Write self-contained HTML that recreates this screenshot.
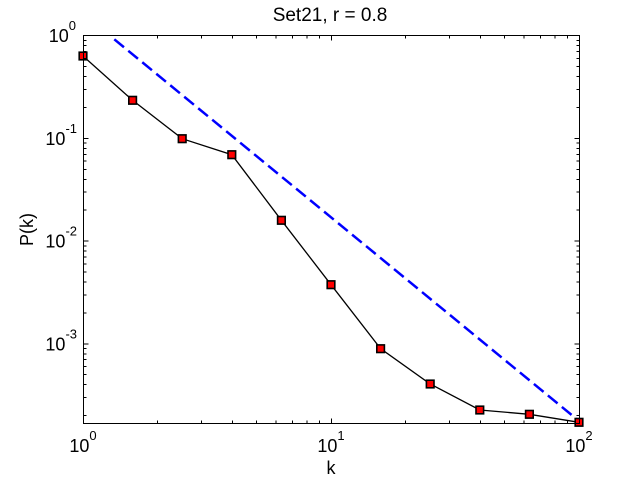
<!DOCTYPE html>
<html>
<head>
<meta charset="utf-8">
<style>
html,body{margin:0;padding:0;background:#fff;}
svg{display:block;}
text{font-family:"Liberation Sans",Arial,sans-serif;fill:#000;}
</style>
</head>
<body>
<svg width="640" height="480" viewBox="0 0 640 480" xmlns="http://www.w3.org/2000/svg">
<rect x="0" y="0" width="640" height="480" fill="#fff"/>

<!-- blue dashed reference line -->
<line x1="114.3" y1="39.3" x2="579" y2="421" stroke="#0000ff" stroke-width="2.5" stroke-dasharray="12.5 5.6"/>

<!-- black data line -->
<polyline fill="none" stroke="#000" stroke-width="1.3" points="83,56 132.6,100.3 182.2,138.7 231.8,154.7 281.4,220.3 331,284.7 380.6,348.7 430.2,384 479.8,410 529.4,414.3 579,422.3"/>

<!-- markers -->
<g fill="#ff0000" stroke="#000" stroke-width="1.6">
<rect x="79.2" y="52.2" width="7.6" height="7.6"/>
<rect x="128.8" y="96.5" width="7.6" height="7.6"/>
<rect x="178.4" y="134.9" width="7.6" height="7.6"/>
<rect x="228" y="150.9" width="7.6" height="7.6"/>
<rect x="277.6" y="216.5" width="7.6" height="7.6"/>
<rect x="327.2" y="280.9" width="7.6" height="7.6"/>
<rect x="376.8" y="344.9" width="7.6" height="7.6"/>
<rect x="426.4" y="380.2" width="7.6" height="7.6"/>
<rect x="476" y="406.2" width="7.6" height="7.6"/>
<rect x="525.6" y="410.5" width="7.6" height="7.6"/>
<rect x="575.2" y="418.5" width="7.6" height="7.6"/>
</g>

<!-- axes box -->
<g shape-rendering="crispEdges" stroke="#000" stroke-width="1" fill="none">
<rect x="83.5" y="35.5" width="496" height="388"/>
<path d="
M157.65 423.5v-3 M201.32 423.5v-3 M232.31 423.5v-3 M256.35 423.5v-3 M275.97 423.5v-3 M292.58 423.5v-3 M306.96 423.5v-3 M319.65 423.5v-3
M405.65 423.5v-3 M449.32 423.5v-3 M480.31 423.5v-3 M504.35 423.5v-3 M523.97 423.5v-3 M540.58 423.5v-3 M554.96 423.5v-3 M567.65 423.5v-3
M157.65 35.5v3 M201.32 35.5v3 M232.31 35.5v3 M256.35 35.5v3 M275.97 35.5v3 M292.58 35.5v3 M306.96 35.5v3 M319.65 35.5v3
M405.65 35.5v3 M449.32 35.5v3 M480.31 35.5v3 M504.35 35.5v3 M523.97 35.5v3 M540.58 35.5v3 M554.96 35.5v3 M567.65 35.5v3
M331.5 423.5v-5 M331.5 35.5v5
M83.5 138.4h5 M83.5 241.1h5 M83.5 343.8h5
M579.5 138.4h-5 M579.5 241.1h-5 M579.5 343.8h-5
M83.5 107.48h3 M83.5 89.4h3 M83.5 76.57h3 M83.5 66.62h3 M83.5 58.49h3 M83.5 51.61h3 M83.5 45.66h3 M83.5 40.4h3
M83.5 210.18h3 M83.5 192.1h3 M83.5 179.27h3 M83.5 169.32h3 M83.5 161.19h3 M83.5 154.31h3 M83.5 148.36h3 M83.5 143.1h3
M83.5 312.88h3 M83.5 294.8h3 M83.5 281.97h3 M83.5 272.02h3 M83.5 263.89h3 M83.5 257.01h3 M83.5 251.06h3 M83.5 245.8h3
M83.5 415.58h3 M83.5 397.5h3 M83.5 384.67h3 M83.5 374.72h3 M83.5 366.59h3 M83.5 359.71h3 M83.5 353.76h3 M83.5 348.5h3
M579.5 107.48h-3 M579.5 89.4h-3 M579.5 76.57h-3 M579.5 66.62h-3 M579.5 58.49h-3 M579.5 51.61h-3 M579.5 45.66h-3 M579.5 40.4h-3
M579.5 210.18h-3 M579.5 192.1h-3 M579.5 179.27h-3 M579.5 169.32h-3 M579.5 161.19h-3 M579.5 154.31h-3 M579.5 148.36h-3 M579.5 143.1h-3
M579.5 312.88h-3 M579.5 294.8h-3 M579.5 281.97h-3 M579.5 272.02h-3 M579.5 263.89h-3 M579.5 257.01h-3 M579.5 251.06h-3 M579.5 245.8h-3
M579.5 415.58h-3 M579.5 397.5h-3 M579.5 384.67h-3 M579.5 374.72h-3 M579.5 366.59h-3 M579.5 359.71h-3 M579.5 353.76h-3 M579.5 348.5h-3
"/>
</g>

<!-- x tick labels -->
<text x="83" y="452" font-size="18" text-anchor="middle">10<tspan font-size="13" dy="-12">0</tspan></text>
<text x="331" y="452" font-size="18" text-anchor="middle">10<tspan font-size="13" dy="-12">1</tspan></text>
<text x="579" y="452" font-size="18" text-anchor="middle">10<tspan font-size="13" dy="-12">2</tspan></text>

<!-- y tick labels -->
<text x="76" y="42" font-size="18" text-anchor="end">10<tspan font-size="13" dy="-12">0</tspan></text>
<text x="77" y="145" font-size="18" text-anchor="end">10<tspan font-size="13" dy="-12">-1</tspan></text>
<text x="77" y="247.6" font-size="18" text-anchor="end">10<tspan font-size="13" dy="-12">-2</tspan></text>
<text x="77" y="350.3" font-size="18" text-anchor="end">10<tspan font-size="13" dy="-12">-3</tspan></text>

<!-- title and axis labels -->
<text x="330" y="21" font-size="19" text-anchor="middle">Set21, r = 0.8</text>
<text x="331" y="474" font-size="18" text-anchor="middle">k</text>
<text x="0" y="0" font-size="18" text-anchor="middle" transform="translate(33,229.5) rotate(-90)">P(k)</text>
</svg>
</body>
</html>
